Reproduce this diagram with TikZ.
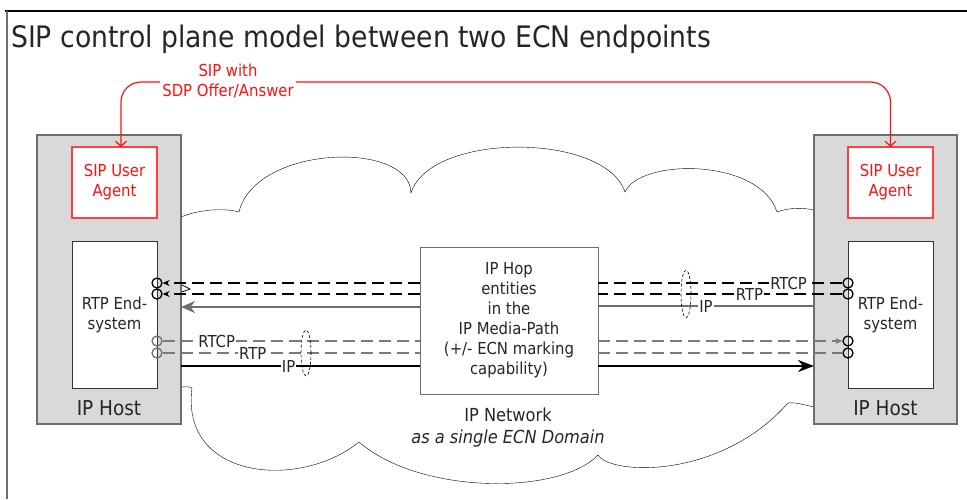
\documentclass[tikz,border=0pt]{standalone}
\usepackage{fontspec}
\setmainfont{DejaVu Sans Condensed}
\usepackage{xcolor}
\usetikzlibrary{positioning,arrows.meta,shapes.geometric}
\definecolor{hostgray}{HTML}{D9D9D9}
\definecolor{linegray}{HTML}{6E6E6E}
\definecolor{dashgray}{HTML}{7A7A7A}
\definecolor{textgray}{HTML}{262626}
\definecolor{sipred}{HTML}{FF1010}

\begin{document}
\begin{tikzpicture}[x=1pt, y=-1pt, font=\fontsize{16.5}{20}\selectfont, text=textgray,
  box/.style={rectangle, inner sep=0pt, outer sep=0pt, align=center},
  hostbox/.style={box, draw=linegray, fill=hostgray, line width=1.2pt, minimum width=144, minimum height=289},
  uabox/.style={box, draw=sipred!80, fill=white, line width=1.2pt, text=sipred, minimum width=85, minimum height=71},
  rtpbox/.style={box, draw=black!80, fill=white, line width=1pt, minimum width=85, minimum height=147},
  hopbox/.style={box, draw=linegray, fill=white, line width=1pt, minimum width=178, minimum height=147},
  hostname/.style={font=\fontsize{20.5}{24}\selectfont},
  port/.style={circle, draw=black, line width=1.3pt, minimum size=10, inner sep=0pt},
  greyport/.style={port, draw=linegray},
  dashblk/.style={draw=black, line width=1.1pt, dash pattern=on 12pt off 6pt},
  dashgry/.style={draw=dashgray, line width=1.1pt, dash pattern=on 12pt off 6pt},
  solidblk/.style={draw=black, line width=2.2pt},
  solidgry/.style={draw=linegray, line width=2.2pt},
  lbl/.style={fill=white, inner sep=1pt},
  bundle/.style={ellipse, draw=black, line width=0.6pt, dash pattern=on 3pt off 2pt, minimum width=10, minimum height=46, inner sep=0pt},
  sipline/.style={draw=sipred, line width=1.2pt, rounded corners=20}]

  \useasboundingbox (0,0) rectangle (967,499);

  \draw[line width=1.2pt] (5,11) -- (967,11);
  \draw[line width=1.2pt, draw=linegray] (7,11) -- (7,499);

  \node[anchor=base west, inner sep=0pt, font=\fontsize{29.6}{34}\selectfont] (title) at (11,47)
    {SIP control plane model between two ECN endpoints};

  \draw (181,217) .. controls (200,209) and (225,208) .. (239,212)
    .. controls (255,145) and (410,140) .. (411,193)
    .. controls (430,132) and (605,132) .. (625,192)
    .. controls (640,158) and (760,158) .. (777,212)
    .. controls (790,207) and (805,208) .. (814,210);
  \draw (814,407) .. controls (805,405) and (795,402) .. (788,403)
    .. controls (720,480) and (610,475) .. (598,455)
    .. controls (560,495) and (420,495) .. (359,442)
    .. controls (300,490) and (180,480) .. (192,388)
    .. controls (188,386) and (185,387) .. (181,387);

  \node[hostbox] (hostL) at (109,279.5) {};
  \node[hostbox, minimum width=143] (hostR) at (885.5,279.5) {};
  \node[uabox] (uaL) at (114.5,182.5) {SIP User\\Agent};
  \node[uabox] (uaR) at (890.5,182.5) {SIP User\\Agent};
  \node[rtpbox] (rtpL) at (114.5,314.5) {RTP End-\\system};
  \node[rtpbox] (rtpR) at (890.5,314.5) {RTP End-\\system};
  \node[hostname] (hostLname) at (109,408) {IP Host};
  \node[hostname] (hostRname) at (885.5,408) {IP Host};

  \node[hopbox, font=\fontsize{16.5}{20}\selectfont] (hop) at (509,320.5)
    {IP Hop\\entities\\in the\\IP Media-Path\\(+/- ECN marking\\capability)};
  \node[align=center, font=\fontsize{18}{22}\selectfont] (net) at (508,428)
    {IP Network\\\textit{as a single ECN Domain}};

  \draw[sipline, {Straight Barb[length=5pt,width=11pt]}-{Straight Barb[length=5pt,width=11pt]}]
    ([xshift=6.5]uaL.north) -- ++(0,-65) -| (uaR.north);
  \node[fill=white, align=center, text=sipred, inner sep=2pt] (sipmsg) at (228,81) {SIP with\\SDP Offer/Answer};

  \foreach \n/\y in {1/283,2/294} {
    \node[port] (cL\n) at (157,\y) {};
  }
  \foreach \n/\y in {3/341,4/353} {
    \node[greyport] (cL\n) at (157,\y) {};
  }
  \foreach \n/\y in {1/283,2/294,3/341,4/353} {
    \node[port] (cR\n) at (848,\y) {};
  }
  \coordinate (ipInL) at (181,307);
  \coordinate (ipOutL) at (181,366);
  \coordinate (ipInR) at (814,306);
  \coordinate (ipOutR) at (814,366);

  \draw[dashblk, -{Stealth[length=7pt,width=6pt]}] (hop.west |- cL1) -- (cL1);
  \draw[dashblk, -{Stealth[length=7pt,width=6pt]}] (hop.west |- cL2) -- (cL2);
  \draw[solidgry, -{Stealth[length=14pt,width=12pt]}] (hop.west |- ipInL) -- (ipInL);
  \draw[dashgry] (cL3) -- (hop.west |- cL3) node[lbl, pos=0.21] {RTCP};
  \draw[dashgry] (cL4) -- (hop.west |- cL4) node[lbl, pos=0.35] {RTP};
  \draw[solidblk] (ipOutL) -- (hop.west |- ipOutL) node[lbl, pos=0.45] {IP};
  \draw[line width=0.8pt] (182,285) -- (190,289) -- (182,292);

  \draw[dashblk] (cR1) -- (hop.east |- cR1) node[lbl, pos=0.22] {RTCP};
  \draw[dashblk] (cR2) -- (hop.east |- cR2) node[lbl, pos=0.38] {RTP};
  \draw[solidgry] (ipInR) -- (hop.east |- ipInR) node[lbl, pos=0.5] {IP};
  \draw[dashgry, -{Stealth[length=7pt,width=6pt]}] (hop.east |- cR3) -- (cR3);
  \draw[dashgry] (hop.east |- cR4) -- (cR4);
  \draw[solidblk, -{Stealth[length=16pt,width=12pt]}] (hop.east |- ipOutR) -- (ipOutR);

  \node[bundle] (bundleL) at (306,353) {};
  \node[bundle, minimum height=48] (bundleR) at (686,294) {};
\end{tikzpicture}
\end{document}
